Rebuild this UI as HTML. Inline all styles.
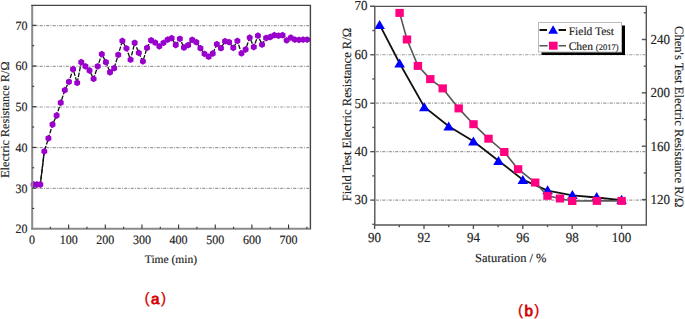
<!DOCTYPE html>
<html><head><meta charset="utf-8"><style>
html,body{margin:0;padding:0;background:#fff;}
body{width:685px;height:319px;overflow:hidden;}
svg{display:block;font-family:"Liberation Serif", serif;fill:#222;} text{stroke:#222;stroke-width:0.15px;text-rendering:geometricPrecision;}
</style></head><body>
<svg width="685" height="319" viewBox="0 0 685 319">
<rect width="685" height="319" fill="#fff"/>
<line x1="33.2" y1="188.40000000000003" x2="310.4" y2="188.40000000000003" stroke="#9a9a9a" stroke-width="1.2" stroke-dasharray="3,1.3,0.9,1.3"/>
<line x1="33.2" y1="147.70000000000002" x2="310.4" y2="147.70000000000002" stroke="#9a9a9a" stroke-width="1.2" stroke-dasharray="3,1.3,0.9,1.3"/>
<line x1="33.2" y1="107.0" x2="310.4" y2="107.0" stroke="#9a9a9a" stroke-width="1.2" stroke-dasharray="3,1.3,0.9,1.3"/>
<line x1="33.2" y1="66.3" x2="310.4" y2="66.3" stroke="#9a9a9a" stroke-width="1.2" stroke-dasharray="3,1.3,0.9,1.3"/>
<line x1="33.2" y1="25.600000000000012" x2="310.4" y2="25.600000000000012" stroke="#9a9a9a" stroke-width="1.2" stroke-dasharray="3,1.3,0.9,1.3"/>
<polyline points="33.60,184.50 36.90,184.50 40.30,184.50 44.30,151.40 48.41,138.30 52.52,124.50 56.62,115.50 60.73,102.70 64.84,90.10 68.95,81.80 73.06,69.20 77.16,82.90 81.27,62.20 85.38,66.30 89.49,70.50 93.60,78.90 97.70,66.30 101.81,54.10 105.92,62.20 110.03,72.30 114.14,68.20 118.24,54.80 122.35,40.90 126.46,48.40 130.57,59.70 134.68,42.80 138.78,52.90 142.89,61.40 147.00,47.90 151.11,40.30 155.22,42.60 159.32,46.30 163.43,42.90 167.54,39.70 171.65,38.20 175.76,45.00 179.86,38.80 183.97,47.50 188.08,45.20 192.19,39.80 196.30,42.20 200.40,48.20 204.51,53.90 208.62,56.70 212.73,53.50 216.84,44.10 220.94,48.20 225.05,41.10 229.16,42.20 233.27,47.90 237.38,40.90 241.48,53.40 245.59,49.50 249.70,37.60 253.81,47.00 257.92,35.70 262.02,44.60 266.13,38.00 270.24,37.00 274.35,35.20 278.46,35.70 282.56,35.20 286.67,40.40 290.78,37.60 294.89,39.60 299.00,39.90 303.10,39.60 307.21,39.60" fill="none" stroke="#111" stroke-width="1.3" stroke-dasharray="4.5,1.4"/>
<line x1="40.3" y1="184.5" x2="44.3" y2="151.4" stroke="#111" stroke-width="1.3"/>
<polygon points="33.60,181.10 36.54,182.80 36.54,186.20 33.60,187.90 30.66,186.20 30.66,182.80" fill="#9900cc"/>
<polygon points="36.90,181.10 39.84,182.80 39.84,186.20 36.90,187.90 33.96,186.20 33.96,182.80" fill="#9900cc"/>
<polygon points="40.30,181.10 43.24,182.80 43.24,186.20 40.30,187.90 37.36,186.20 37.36,182.80" fill="#9900cc"/>
<polygon points="44.30,148.00 47.24,149.70 47.24,153.10 44.30,154.80 41.36,153.10 41.36,149.70" fill="#9900cc"/>
<polygon points="48.41,134.90 51.35,136.60 51.35,140.00 48.41,141.70 45.46,140.00 45.46,136.60" fill="#9900cc"/>
<polygon points="52.52,121.10 55.46,122.80 55.46,126.20 52.52,127.90 49.57,126.20 49.57,122.80" fill="#9900cc"/>
<polygon points="56.62,112.10 59.57,113.80 59.57,117.20 56.62,118.90 53.68,117.20 53.68,113.80" fill="#9900cc"/>
<polygon points="60.73,99.30 63.68,101.00 63.68,104.40 60.73,106.10 57.79,104.40 57.79,101.00" fill="#9900cc"/>
<polygon points="64.84,86.70 67.78,88.40 67.78,91.80 64.84,93.50 61.90,91.80 61.90,88.40" fill="#9900cc"/>
<polygon points="68.95,78.40 71.89,80.10 71.89,83.50 68.95,85.20 66.00,83.50 66.00,80.10" fill="#9900cc"/>
<polygon points="73.06,65.80 76.00,67.50 76.00,70.90 73.06,72.60 70.11,70.90 70.11,67.50" fill="#9900cc"/>
<polygon points="77.16,79.50 80.11,81.20 80.11,84.60 77.16,86.30 74.22,84.60 74.22,81.20" fill="#9900cc"/>
<polygon points="81.27,58.80 84.22,60.50 84.22,63.90 81.27,65.60 78.33,63.90 78.33,60.50" fill="#9900cc"/>
<polygon points="85.38,62.90 88.32,64.60 88.32,68.00 85.38,69.70 82.44,68.00 82.44,64.60" fill="#9900cc"/>
<polygon points="89.49,67.10 92.43,68.80 92.43,72.20 89.49,73.90 86.54,72.20 86.54,68.80" fill="#9900cc"/>
<polygon points="93.60,75.50 96.54,77.20 96.54,80.60 93.60,82.30 90.65,80.60 90.65,77.20" fill="#9900cc"/>
<polygon points="97.70,62.90 100.65,64.60 100.65,68.00 97.70,69.70 94.76,68.00 94.76,64.60" fill="#9900cc"/>
<polygon points="101.81,50.70 104.76,52.40 104.76,55.80 101.81,57.50 98.87,55.80 98.87,52.40" fill="#9900cc"/>
<polygon points="105.92,58.80 108.86,60.50 108.86,63.90 105.92,65.60 102.98,63.90 102.98,60.50" fill="#9900cc"/>
<polygon points="110.03,68.90 112.97,70.60 112.97,74.00 110.03,75.70 107.08,74.00 107.08,70.60" fill="#9900cc"/>
<polygon points="114.14,64.80 117.08,66.50 117.08,69.90 114.14,71.60 111.19,69.90 111.19,66.50" fill="#9900cc"/>
<polygon points="118.24,51.40 121.19,53.10 121.19,56.50 118.24,58.20 115.30,56.50 115.30,53.10" fill="#9900cc"/>
<polygon points="122.35,37.50 125.30,39.20 125.30,42.60 122.35,44.30 119.41,42.60 119.41,39.20" fill="#9900cc"/>
<polygon points="126.46,45.00 129.40,46.70 129.40,50.10 126.46,51.80 123.52,50.10 123.52,46.70" fill="#9900cc"/>
<polygon points="130.57,56.30 133.51,58.00 133.51,61.40 130.57,63.10 127.62,61.40 127.62,58.00" fill="#9900cc"/>
<polygon points="134.68,39.40 137.62,41.10 137.62,44.50 134.68,46.20 131.73,44.50 131.73,41.10" fill="#9900cc"/>
<polygon points="138.78,49.50 141.73,51.20 141.73,54.60 138.78,56.30 135.84,54.60 135.84,51.20" fill="#9900cc"/>
<polygon points="142.89,58.00 145.84,59.70 145.84,63.10 142.89,64.80 139.95,63.10 139.95,59.70" fill="#9900cc"/>
<polygon points="147.00,44.50 149.94,46.20 149.94,49.60 147.00,51.30 144.06,49.60 144.06,46.20" fill="#9900cc"/>
<polygon points="151.11,36.90 154.05,38.60 154.05,42.00 151.11,43.70 148.16,42.00 148.16,38.60" fill="#9900cc"/>
<polygon points="155.22,39.20 158.16,40.90 158.16,44.30 155.22,46.00 152.27,44.30 152.27,40.90" fill="#9900cc"/>
<polygon points="159.32,42.90 162.27,44.60 162.27,48.00 159.32,49.70 156.38,48.00 156.38,44.60" fill="#9900cc"/>
<polygon points="163.43,39.50 166.38,41.20 166.38,44.60 163.43,46.30 160.49,44.60 160.49,41.20" fill="#9900cc"/>
<polygon points="167.54,36.30 170.48,38.00 170.48,41.40 167.54,43.10 164.60,41.40 164.60,38.00" fill="#9900cc"/>
<polygon points="171.65,34.80 174.59,36.50 174.59,39.90 171.65,41.60 168.70,39.90 168.70,36.50" fill="#9900cc"/>
<polygon points="175.76,41.60 178.70,43.30 178.70,46.70 175.76,48.40 172.81,46.70 172.81,43.30" fill="#9900cc"/>
<polygon points="179.86,35.40 182.81,37.10 182.81,40.50 179.86,42.20 176.92,40.50 176.92,37.10" fill="#9900cc"/>
<polygon points="183.97,44.10 186.92,45.80 186.92,49.20 183.97,50.90 181.03,49.20 181.03,45.80" fill="#9900cc"/>
<polygon points="188.08,41.80 191.02,43.50 191.02,46.90 188.08,48.60 185.14,46.90 185.14,43.50" fill="#9900cc"/>
<polygon points="192.19,36.40 195.13,38.10 195.13,41.50 192.19,43.20 189.24,41.50 189.24,38.10" fill="#9900cc"/>
<polygon points="196.30,38.80 199.24,40.50 199.24,43.90 196.30,45.60 193.35,43.90 193.35,40.50" fill="#9900cc"/>
<polygon points="200.40,44.80 203.35,46.50 203.35,49.90 200.40,51.60 197.46,49.90 197.46,46.50" fill="#9900cc"/>
<polygon points="204.51,50.50 207.46,52.20 207.46,55.60 204.51,57.30 201.57,55.60 201.57,52.20" fill="#9900cc"/>
<polygon points="208.62,53.30 211.56,55.00 211.56,58.40 208.62,60.10 205.68,58.40 205.68,55.00" fill="#9900cc"/>
<polygon points="212.73,50.10 215.67,51.80 215.67,55.20 212.73,56.90 209.78,55.20 209.78,51.80" fill="#9900cc"/>
<polygon points="216.84,40.70 219.78,42.40 219.78,45.80 216.84,47.50 213.89,45.80 213.89,42.40" fill="#9900cc"/>
<polygon points="220.94,44.80 223.89,46.50 223.89,49.90 220.94,51.60 218.00,49.90 218.00,46.50" fill="#9900cc"/>
<polygon points="225.05,37.70 228.00,39.40 228.00,42.80 225.05,44.50 222.11,42.80 222.11,39.40" fill="#9900cc"/>
<polygon points="229.16,38.80 232.10,40.50 232.10,43.90 229.16,45.60 226.22,43.90 226.22,40.50" fill="#9900cc"/>
<polygon points="233.27,44.50 236.21,46.20 236.21,49.60 233.27,51.30 230.32,49.60 230.32,46.20" fill="#9900cc"/>
<polygon points="237.38,37.50 240.32,39.20 240.32,42.60 237.38,44.30 234.43,42.60 234.43,39.20" fill="#9900cc"/>
<polygon points="241.48,50.00 244.43,51.70 244.43,55.10 241.48,56.80 238.54,55.10 238.54,51.70" fill="#9900cc"/>
<polygon points="245.59,46.10 248.54,47.80 248.54,51.20 245.59,52.90 242.65,51.20 242.65,47.80" fill="#9900cc"/>
<polygon points="249.70,34.20 252.64,35.90 252.64,39.30 249.70,41.00 246.76,39.30 246.76,35.90" fill="#9900cc"/>
<polygon points="253.81,43.60 256.75,45.30 256.75,48.70 253.81,50.40 250.86,48.70 250.86,45.30" fill="#9900cc"/>
<polygon points="257.92,32.30 260.86,34.00 260.86,37.40 257.92,39.10 254.97,37.40 254.97,34.00" fill="#9900cc"/>
<polygon points="262.02,41.20 264.97,42.90 264.97,46.30 262.02,48.00 259.08,46.30 259.08,42.90" fill="#9900cc"/>
<polygon points="266.13,34.60 269.08,36.30 269.08,39.70 266.13,41.40 263.19,39.70 263.19,36.30" fill="#9900cc"/>
<polygon points="270.24,33.60 273.18,35.30 273.18,38.70 270.24,40.40 267.30,38.70 267.30,35.30" fill="#9900cc"/>
<polygon points="274.35,31.80 277.29,33.50 277.29,36.90 274.35,38.60 271.40,36.90 271.40,33.50" fill="#9900cc"/>
<polygon points="278.46,32.30 281.40,34.00 281.40,37.40 278.46,39.10 275.51,37.40 275.51,34.00" fill="#9900cc"/>
<polygon points="282.56,31.80 285.51,33.50 285.51,36.90 282.56,38.60 279.62,36.90 279.62,33.50" fill="#9900cc"/>
<polygon points="286.67,37.00 289.62,38.70 289.62,42.10 286.67,43.80 283.73,42.10 283.73,38.70" fill="#9900cc"/>
<polygon points="290.78,34.20 293.72,35.90 293.72,39.30 290.78,41.00 287.84,39.30 287.84,35.90" fill="#9900cc"/>
<polygon points="294.89,36.20 297.83,37.90 297.83,41.30 294.89,43.00 291.94,41.30 291.94,37.90" fill="#9900cc"/>
<polygon points="299.00,36.50 301.94,38.20 301.94,41.60 299.00,43.30 296.05,41.60 296.05,38.20" fill="#9900cc"/>
<polygon points="303.10,36.20 306.05,37.90 306.05,41.30 303.10,43.00 300.16,41.30 300.16,37.90" fill="#9900cc"/>
<polygon points="307.21,36.20 310.16,37.90 310.16,41.30 307.21,43.00 304.27,41.30 304.27,37.90" fill="#9900cc"/>
<line x1="32.2" y1="5.4" x2="32.2" y2="229.8" stroke="#8a8a8a" stroke-width="2"/>
<line x1="31.200000000000003" y1="228.8" x2="311.09999999999997" y2="228.8" stroke="#8a8a8a" stroke-width="2"/>
<line x1="31.200000000000003" y1="5.4" x2="311.09999999999997" y2="5.4" stroke="#444" stroke-width="1.4"/>
<line x1="310.4" y1="5.4" x2="310.4" y2="228.8" stroke="#444" stroke-width="1.4"/>
<text transform="translate(32.00,243.8) scale(1,1.06)" font-size="12" text-anchor="middle">0</text>
<line x1="50.33" y1="228.8" x2="50.33" y2="226.8" stroke="#333" stroke-width="1.1"/>
<line x1="68.65" y1="228.8" x2="68.65" y2="224.4" stroke="#333" stroke-width="1.1"/>
<text transform="translate(68.65,243.8) scale(1,1.06)" font-size="12" text-anchor="middle">100</text>
<line x1="86.97" y1="228.8" x2="86.97" y2="226.8" stroke="#333" stroke-width="1.1"/>
<line x1="105.30" y1="228.8" x2="105.30" y2="224.4" stroke="#333" stroke-width="1.1"/>
<text transform="translate(105.30,243.8) scale(1,1.06)" font-size="12" text-anchor="middle">200</text>
<line x1="123.62" y1="228.8" x2="123.62" y2="226.8" stroke="#333" stroke-width="1.1"/>
<line x1="141.95" y1="228.8" x2="141.95" y2="224.4" stroke="#333" stroke-width="1.1"/>
<text transform="translate(141.95,243.8) scale(1,1.06)" font-size="12" text-anchor="middle">300</text>
<line x1="160.28" y1="228.8" x2="160.28" y2="226.8" stroke="#333" stroke-width="1.1"/>
<line x1="178.60" y1="228.8" x2="178.60" y2="224.4" stroke="#333" stroke-width="1.1"/>
<text transform="translate(178.60,243.8) scale(1,1.06)" font-size="12" text-anchor="middle">400</text>
<line x1="196.92" y1="228.8" x2="196.92" y2="226.8" stroke="#333" stroke-width="1.1"/>
<line x1="215.25" y1="228.8" x2="215.25" y2="224.4" stroke="#333" stroke-width="1.1"/>
<text transform="translate(215.25,243.8) scale(1,1.06)" font-size="12" text-anchor="middle">500</text>
<line x1="233.57" y1="228.8" x2="233.57" y2="226.8" stroke="#333" stroke-width="1.1"/>
<line x1="251.90" y1="228.8" x2="251.90" y2="224.4" stroke="#333" stroke-width="1.1"/>
<text transform="translate(251.90,243.8) scale(1,1.06)" font-size="12" text-anchor="middle">600</text>
<line x1="270.23" y1="228.8" x2="270.23" y2="226.8" stroke="#333" stroke-width="1.1"/>
<line x1="288.55" y1="228.8" x2="288.55" y2="224.4" stroke="#333" stroke-width="1.1"/>
<text transform="translate(288.55,243.8) scale(1,1.06)" font-size="12" text-anchor="middle">700</text>
<line x1="306.88" y1="228.8" x2="306.88" y2="226.8" stroke="#333" stroke-width="1.1"/>
<text transform="translate(27.4,233.20) scale(1,1.06)" font-size="12" text-anchor="end">20</text>
<line x1="32.2" y1="208.45" x2="34.2" y2="208.45" stroke="#333" stroke-width="1.1"/>
<line x1="32.2" y1="188.10" x2="36.6" y2="188.10" stroke="#333" stroke-width="1.1"/>
<text transform="translate(27.4,192.50) scale(1,1.06)" font-size="12" text-anchor="end">30</text>
<line x1="32.2" y1="167.75" x2="34.2" y2="167.75" stroke="#333" stroke-width="1.1"/>
<line x1="32.2" y1="147.40" x2="36.6" y2="147.40" stroke="#333" stroke-width="1.1"/>
<text transform="translate(27.4,151.80) scale(1,1.06)" font-size="12" text-anchor="end">40</text>
<line x1="32.2" y1="127.05" x2="34.2" y2="127.05" stroke="#333" stroke-width="1.1"/>
<line x1="32.2" y1="106.70" x2="36.6" y2="106.70" stroke="#333" stroke-width="1.1"/>
<text transform="translate(27.4,111.10) scale(1,1.06)" font-size="12" text-anchor="end">50</text>
<line x1="32.2" y1="86.35" x2="34.2" y2="86.35" stroke="#333" stroke-width="1.1"/>
<line x1="32.2" y1="66.00" x2="36.6" y2="66.00" stroke="#333" stroke-width="1.1"/>
<text transform="translate(27.4,70.40) scale(1,1.06)" font-size="12" text-anchor="end">60</text>
<line x1="32.2" y1="45.65" x2="34.2" y2="45.65" stroke="#333" stroke-width="1.1"/>
<line x1="32.2" y1="25.30" x2="36.6" y2="25.30" stroke="#333" stroke-width="1.1"/>
<text transform="translate(27.4,29.70) scale(1,1.06)" font-size="12" text-anchor="end">70</text>
<text x="144.8" y="263.4" font-size="11.5">Time (min)</text>
<text transform="translate(8.9,177.8) rotate(-90)" x="0" y="0" font-size="12.15">Electric Resistance R/&#937;</text>
<text x="144.6" y="304.3" font-size="15.2" style="fill:#d40000;stroke:#d40000;stroke-width:0.25px" font-family='"Liberation Sans", sans-serif' letter-spacing="1.4"><tspan dy="-1.3">(</tspan><tspan dy="1.3" style="stroke-width:0.8px">a</tspan><tspan dy="-1.3">)</tspan></text>
<line x1="375.8" y1="54.74999999999999" x2="645.3" y2="54.74999999999999" stroke="#9a9a9a" stroke-width="1.2" stroke-dasharray="3,1.3,0.9,1.3"/>
<line x1="375.8" y1="103.19999999999999" x2="645.3" y2="103.19999999999999" stroke="#9a9a9a" stroke-width="1.2" stroke-dasharray="3,1.3,0.9,1.3"/>
<line x1="375.8" y1="151.65" x2="645.3" y2="151.65" stroke="#9a9a9a" stroke-width="1.2" stroke-dasharray="3,1.3,0.9,1.3"/>
<line x1="375.8" y1="200.1" x2="645.3" y2="200.1" stroke="#9a9a9a" stroke-width="1.2" stroke-dasharray="3,1.3,0.9,1.3"/>
<polyline points="379.6,24.7 399.6,63.2 424.3,107 448.7,126.3 473.4,141.2 498.5,160.8 522.8,179.6 547.6,190.6 572.4,195.3 596.7,197.5 621.6,200.1" fill="none" stroke="#111" stroke-width="1.8"/>
<polygon points="374.30,29.00 384.90,29.00 379.60,20.00" fill="#0000ff"/>
<polygon points="394.30,67.50 404.90,67.50 399.60,58.50" fill="#0000ff"/>
<polygon points="419.00,111.30 429.60,111.30 424.30,102.30" fill="#0000ff"/>
<polygon points="443.40,130.60 454.00,130.60 448.70,121.60" fill="#0000ff"/>
<polygon points="468.10,145.50 478.70,145.50 473.40,136.50" fill="#0000ff"/>
<polygon points="493.20,165.10 503.80,165.10 498.50,156.10" fill="#0000ff"/>
<polygon points="517.50,183.90 528.10,183.90 522.80,174.90" fill="#0000ff"/>
<polygon points="542.30,194.20 552.90,194.20 547.60,185.20" fill="#0000ff"/>
<polygon points="567.10,198.90 577.70,198.90 572.40,189.90" fill="#0000ff"/>
<polygon points="591.40,201.10 602.00,201.10 596.70,192.10" fill="#0000ff"/>
<polygon points="616.30,203.70 626.90,203.70 621.60,194.70" fill="#0000ff"/>
<polyline points="399.6,12.9 407,39.5 417.9,65.9 430.3,79.1 442.7,88.4 458.7,108.4 473.5,124.2 488.5,138.7 504.3,152 518.1,169.2 535.2,182.5 547.5,195.8 560,198.5 572.2,201 596.9,200.9 621.6,200.9" fill="none" stroke="#555" stroke-width="1.6"/>
<rect x="395.40" y="8.90" width="8.4" height="8" fill="#ff0080"/>
<rect x="402.80" y="35.50" width="8.4" height="8" fill="#ff0080"/>
<rect x="413.70" y="61.90" width="8.4" height="8" fill="#ff0080"/>
<rect x="426.10" y="75.10" width="8.4" height="8" fill="#ff0080"/>
<rect x="438.50" y="84.40" width="8.4" height="8" fill="#ff0080"/>
<rect x="454.50" y="104.40" width="8.4" height="8" fill="#ff0080"/>
<rect x="469.30" y="120.20" width="8.4" height="8" fill="#ff0080"/>
<rect x="484.30" y="134.70" width="8.4" height="8" fill="#ff0080"/>
<rect x="500.10" y="148.00" width="8.4" height="8" fill="#ff0080"/>
<rect x="513.90" y="165.20" width="8.4" height="8" fill="#ff0080"/>
<rect x="531.00" y="178.50" width="8.4" height="8" fill="#ff0080"/>
<rect x="543.30" y="191.80" width="8.4" height="8" fill="#ff0080"/>
<rect x="555.80" y="194.50" width="8.4" height="8" fill="#ff0080"/>
<rect x="568.00" y="197.00" width="8.4" height="8" fill="#ff0080"/>
<rect x="592.70" y="196.90" width="8.4" height="8" fill="#ff0080"/>
<rect x="617.40" y="196.90" width="8.4" height="8" fill="#ff0080"/>
<line x1="374.8" y1="6.4" x2="374.8" y2="225.0" stroke="#555" stroke-width="1.4"/>
<line x1="646.3" y1="6.4" x2="646.3" y2="225.0" stroke="#555" stroke-width="1.4"/>
<line x1="370.3" y1="6.4" x2="647.0" y2="6.4" stroke="#555" stroke-width="1.4"/>
<line x1="374.1" y1="225.0" x2="647.0" y2="225.0" stroke="#555" stroke-width="1.4"/>
<line x1="374.60" y1="225.0" x2="374.60" y2="229.0" stroke="#555" stroke-width="1.4"/>
<text transform="translate(374.60,241.9) scale(1,1.06)" font-size="13" text-anchor="middle">90</text>
<line x1="399.30" y1="225.0" x2="399.30" y2="227.2" stroke="#555" stroke-width="1.4"/>
<line x1="424.00" y1="225.0" x2="424.00" y2="229.0" stroke="#555" stroke-width="1.4"/>
<text transform="translate(424.00,241.9) scale(1,1.06)" font-size="13" text-anchor="middle">92</text>
<line x1="448.70" y1="225.0" x2="448.70" y2="227.2" stroke="#555" stroke-width="1.4"/>
<line x1="473.40" y1="225.0" x2="473.40" y2="229.0" stroke="#555" stroke-width="1.4"/>
<text transform="translate(473.40,241.9) scale(1,1.06)" font-size="13" text-anchor="middle">94</text>
<line x1="498.10" y1="225.0" x2="498.10" y2="227.2" stroke="#555" stroke-width="1.4"/>
<line x1="522.80" y1="225.0" x2="522.80" y2="229.0" stroke="#555" stroke-width="1.4"/>
<text transform="translate(522.80,241.9) scale(1,1.06)" font-size="13" text-anchor="middle">96</text>
<line x1="547.50" y1="225.0" x2="547.50" y2="227.2" stroke="#555" stroke-width="1.4"/>
<line x1="572.20" y1="225.0" x2="572.20" y2="229.0" stroke="#555" stroke-width="1.4"/>
<text transform="translate(572.20,241.9) scale(1,1.06)" font-size="13" text-anchor="middle">98</text>
<line x1="596.90" y1="225.0" x2="596.90" y2="227.2" stroke="#555" stroke-width="1.4"/>
<line x1="621.60" y1="225.0" x2="621.60" y2="229.0" stroke="#555" stroke-width="1.4"/>
<text transform="translate(621.60,241.9) scale(1,1.06)" font-size="13" text-anchor="middle">100</text>
<line x1="374.8" y1="224.32" x2="372.30" y2="224.32" stroke="#555" stroke-width="1.4"/>
<line x1="374.8" y1="200.10" x2="370.30" y2="200.10" stroke="#555" stroke-width="1.4"/>
<text transform="translate(367.5,204.40) scale(1,1.06)" font-size="13" text-anchor="end">30</text>
<line x1="374.8" y1="175.88" x2="372.30" y2="175.88" stroke="#555" stroke-width="1.4"/>
<line x1="374.8" y1="151.65" x2="370.30" y2="151.65" stroke="#555" stroke-width="1.4"/>
<text transform="translate(367.5,155.95) scale(1,1.06)" font-size="13" text-anchor="end">40</text>
<line x1="374.8" y1="127.42" x2="372.30" y2="127.42" stroke="#555" stroke-width="1.4"/>
<line x1="374.8" y1="103.20" x2="370.30" y2="103.20" stroke="#555" stroke-width="1.4"/>
<text transform="translate(367.5,107.50) scale(1,1.06)" font-size="13" text-anchor="end">50</text>
<line x1="374.8" y1="78.97" x2="372.30" y2="78.97" stroke="#555" stroke-width="1.4"/>
<line x1="374.8" y1="54.75" x2="370.30" y2="54.75" stroke="#555" stroke-width="1.4"/>
<text transform="translate(367.5,59.05) scale(1,1.06)" font-size="13" text-anchor="end">60</text>
<line x1="374.8" y1="30.52" x2="372.30" y2="30.52" stroke="#555" stroke-width="1.4"/>
<line x1="374.8" y1="6.30" x2="370.30" y2="6.30" stroke="#555" stroke-width="1.4"/>
<text transform="translate(367.5,9.60) scale(1,1.06)" font-size="13" text-anchor="end">70</text>
<line x1="646.3" y1="199.58" x2="641.80" y2="199.58" stroke="#555" stroke-width="1.4"/>
<text transform="translate(650.5,203.88) scale(1,1.06)" font-size="13">120</text>
<line x1="646.3" y1="172.90" x2="643.80" y2="172.90" stroke="#555" stroke-width="1.4"/>
<line x1="646.3" y1="146.22" x2="641.80" y2="146.22" stroke="#555" stroke-width="1.4"/>
<text transform="translate(650.5,150.52) scale(1,1.06)" font-size="13">160</text>
<line x1="646.3" y1="119.54" x2="643.80" y2="119.54" stroke="#555" stroke-width="1.4"/>
<line x1="646.3" y1="92.86" x2="641.80" y2="92.86" stroke="#555" stroke-width="1.4"/>
<text transform="translate(650.5,97.16) scale(1,1.06)" font-size="13">200</text>
<line x1="646.3" y1="66.18" x2="643.80" y2="66.18" stroke="#555" stroke-width="1.4"/>
<line x1="646.3" y1="39.50" x2="641.80" y2="39.50" stroke="#555" stroke-width="1.4"/>
<text transform="translate(650.5,43.80) scale(1,1.06)" font-size="13">240</text>
<line x1="646.3" y1="12.82" x2="643.80" y2="12.82" stroke="#555" stroke-width="1.4"/>
<text x="475" y="261.5" font-size="12.5">Saturation / %</text>
<text transform="translate(350.6,201.2) rotate(-90)" font-size="12.6">Field Test Electric Resistance R/&#937;</text>
<text transform="translate(674.6,26.0) rotate(90)" font-size="12.62">Chen&#39;s Test Electric Resistance R/&#937;</text>
<rect x="541.5" y="25.5" width="83.5" height="29.5" fill="#000"/>
<rect x="538.5" y="22.5" width="83" height="29.5" fill="#fff" stroke="#bbb" stroke-width="1"/>
<path d="M539.5 30H547M558.6 30H566" stroke="#111" stroke-width="1.8"/>
<polygon points="548.2,33.8 558,33.8 553.1,25.2" fill="#0000ff"/>
<text x="568.7" y="34.7" font-size="11.5">Field Test</text>
<path d="M539.5 45.7H547.6M558.6 45.7H566" stroke="#555" stroke-width="1.6"/>
<rect x="549" y="41.7" width="8.6" height="8" fill="#ff0080"/>
<text x="568.7" y="49.5" font-size="11.5">Chen <tspan font-size="8.5">(2017)</tspan></text>
<text x="518.0" y="316.2" font-size="15.2" style="fill:#d40000;stroke:#d40000;stroke-width:0.25px" font-family='"Liberation Sans", sans-serif' letter-spacing="1.4"><tspan dy="-1.3">(</tspan><tspan dy="1.3" style="stroke-width:0.8px">b</tspan><tspan dy="-1.3">)</tspan></text>
</svg>
</body></html>
